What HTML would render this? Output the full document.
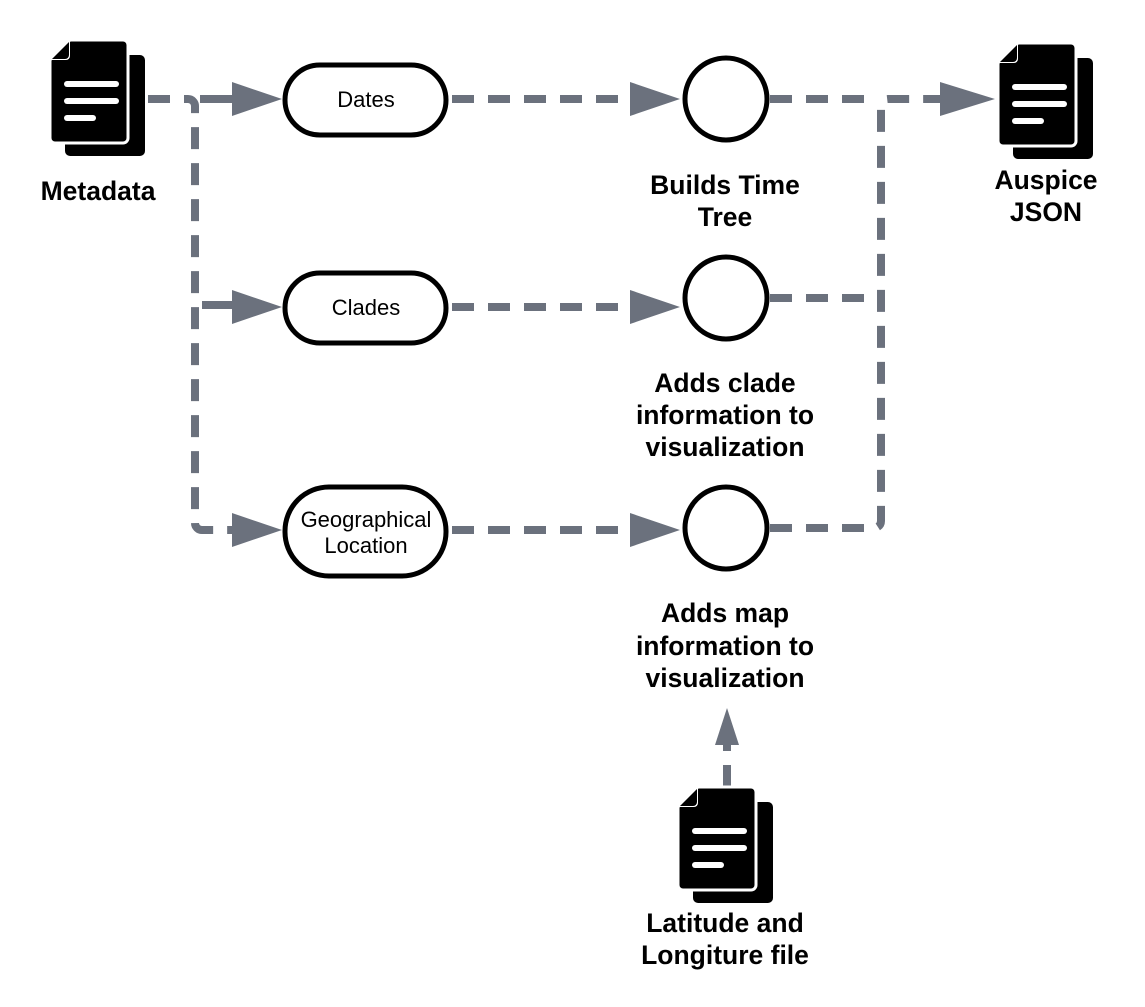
<!DOCTYPE html>
<html><head><style>html,body{margin:0;padding:0;background:#fff}svg{display:block}</style></head><body>
<svg width="1145" height="1007" viewBox="0 0 1145 1007" xmlns="http://www.w3.org/2000/svg">
<defs>
<g id="doc">
  <rect x="15" y="15" width="80" height="101" rx="5" fill="#000"/>
  <path d="M20 0 H73 a5 5 0 0 1 5 5 V98 a5 5 0 0 1 -5 5 H5 a5 5 0 0 1 -5 -5 V20 Z" fill="#000" stroke="#fff" stroke-width="3"/>
  <path d="M20 0 V16 a4 4 0 0 1 -4 4 H0 Z" fill="#fff"/>
  <path d="M2 19 L19 2 V15 a4 4 0 0 1 -4 4 Z" fill="#000"/>
  <g stroke="#fff" stroke-width="6" stroke-linecap="round">
    <line x1="17" y1="44" x2="66" y2="44"/>
    <line x1="17" y1="61" x2="66" y2="61"/>
    <line x1="17" y1="78" x2="43" y2="78"/>
  </g>
</g>
</defs>
<g fill="none" stroke="#6b717d" stroke-width="8" stroke-dasharray="22 14">
  <path d="M148 99 H188 a7 7 0 0 1 7 7 V523 a7 7 0 0 0 7 7 H236"/>
  <path d="M200 99 H236" stroke-dasharray="none"/>
  <path d="M202 305 H236" stroke-dasharray="none"/>
  <path d="M452 99 H632"/>
  <path d="M452 307 H632"/>
  <path d="M452 530 H632"/>
  <path d="M770 99 H868"/>
  <path d="M770 298 H877"/>
  <path d="M770 528 H874 a7 7 0 0 0 7 -7 V106 a7 7 0 0 1 7 -7 H942"/>
  <path d="M727 787 V745"/>
</g>
<g fill="#6b717d">
  <polygon points="232,82 282,99 232,116"/>
  <polygon points="232,290 282,307 232,324"/>
  <polygon points="232,513 282,530 232,547"/>
  <polygon points="630,82 680,99 630,116"/>
  <polygon points="630,290 680,307 630,324"/>
  <polygon points="630,513 680,530 630,547"/>
  <polygon points="940,82 995,99 940,116"/>
  <polygon points="715,745 727,708 739,745"/>
</g>
<g fill="#fff" stroke="#000" stroke-width="5">
  <rect x="285" y="65" width="161" height="70" rx="35"/>
  <rect x="285" y="273" width="161" height="70" rx="35"/>
  <rect x="285" y="487" width="161" height="89" rx="44"/>
  <circle cx="726" cy="99" r="41"/>
  <circle cx="726" cy="298" r="41"/>
  <circle cx="726" cy="528" r="41"/>
</g>
<use href="#doc" x="50" y="40"/>
<use href="#doc" x="998" y="43"/>
<use href="#doc" x="678" y="787"/>
<g font-family="Liberation Sans, sans-serif" text-anchor="middle">
  <g font-size="22">
    <text x="366" y="107">Dates</text>
    <text x="366" y="315">Clades</text>
    <text x="366" y="527">Geographical</text>
    <text x="366" y="553">Location</text>
  </g>
  <g font-size="26.5" font-weight="bold">
    <text x="98" y="200">Metadata</text>
    <text x="725" y="194">Builds Time</text>
    <text x="725" y="226">Tree</text>
    <text x="1046" y="189">Auspice</text>
    <text x="1046" y="221">JSON</text>
    <text x="725" y="392">Adds clade</text>
    <text x="725" y="424">information to</text>
    <text x="725" y="456">visualization</text>
    <text x="725" y="622">Adds map</text>
    <text x="725" y="655">information to</text>
    <text x="725" y="687">visualization</text>
    <text x="725" y="932">Latitude and</text>
    <text x="725" y="964">Longiture file</text>
  </g>
</g>
</svg>
</body></html>
